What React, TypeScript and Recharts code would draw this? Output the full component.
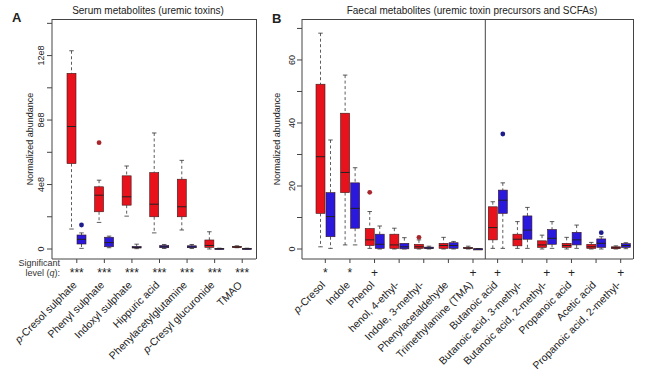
import React from "react";
import { ComposedChart, Bar, XAxis, YAxis, ReferenceLine, Label } from "recharts";

const FONT = '"Liberation Sans", Arial, Helvetica, sans-serif';
const RED = "#e8121c";
const BLUE = "#2a18dc";
const RED_OUT = "#a8262c";
const BLUE_OUT = "#1c1c8c";
const FRAME = "#444";

// ---------- Panel A: serum metabolites (values in units of 1e8) ----------
const serumNames = [
  "p-Cresol sulphate",
  "Phenyl sulphate",
  "Indoxyl sulphate",
  "Hippuric acid",
  "Phenylacetylglutamine",
  "p-Cresyl glucuronide",
  "TMAO",
];
const serumSignif = ["***", "***", "***", "***", "***", "***", "***"];
// [lower whisker, Q1, median, Q3, upper whisker]
const serumRed = [
  [1.24, 5.3, 7.6, 10.9, 12.3],
  [1.65, 2.31, 3.34, 3.86, 4.27],
  [2.04, 2.72, 3.24, 4.54, 5.15],
  [1.0, 2.0, 2.78, 4.74, 7.2],
  [1.18, 2.0, 2.62, 4.33, 5.5],
  [0.0, 0.1, 0.22, 0.56, 1.07],
  [0.08, 0.11, 0.13, 0.16, 0.2],
];
const serumBlue = [
  [0.04, 0.31, 0.6, 0.87, 1.0],
  [0.08, 0.14, 0.4, 0.73, 0.8],
  [0.02, 0.06, 0.1, 0.16, 0.3],
  [0.03, 0.08, 0.14, 0.22, 0.28],
  [0.03, 0.08, 0.13, 0.2, 0.28],
  [0.0, 0.01, 0.02, 0.04, 0.05],
  [0.0, 0.01, 0.02, 0.04, 0.05],
];
const serumRedOut = [null, 6.6, null, null, null, null, null];
const serumBlueOut = [1.49, null, null, null, null, null, null];
const serumTicks = [0, 2, 4, 6, 8, 10, 12, 14];
const serumTickLabels = ["0", "", "4e8", "", "8e8", "", "12e8", ""];
const serumDomain = [-0.62, 14.27];

// ---------- Panel B: faecal metabolites ----------
const faecalNames = [
  "p-Cresol",
  "Indole",
  "Phenol",
  "henol, 4-ethyl-",
  "Indole, 3-methyl-",
  "Phenylacetaldehyde",
  "Trimethylamine (TMA)",
  "Butanoic acid",
  "Butanoic acid, 3-methyl-",
  "Butanoic acid, 2-methyl-",
  "Propanoic acid",
  "Acetic acid",
  "Propanoic acid, 2-methyl-",
];
const faecalSignif = ["*", "*", "+", "", "", "", "+", "+", "", "+", "+", "", "+"];
const faecalRed = [
  [0.7, 11.3, 29.3, 52.3, 68.5],
  [1.3, 17.9, 24.3, 43.1, 55.2],
  [0.2, 1.1, 2.9, 6.5, 11.9],
  [0.0, 0.2, 1.3, 4.7, 6.6],
  [0.0, 0.2, 0.7, 1.5, 2.9],
  [0.0, 0.2, 1.1, 1.8, 3.7],
  [0.0, 0.1, 0.3, 0.5, 0.9],
  [0.2, 2.9, 6.8, 13.4, 15.0],
  [0.2, 1.0, 3.1, 4.7, 8.7],
  [0.0, 0.5, 1.3, 2.6, 4.4],
  [0.0, 0.5, 1.1, 1.8, 3.7],
  [0.0, 0.2, 0.7, 1.5, 2.1],
  [0.0, 0.1, 0.4, 0.7, 1.0],
];
const faecalBlue = [
  [0.2, 3.9, 10.3, 17.9, 34.6],
  [1.3, 6.6, 12.9, 21.0, 25.8],
  [0.0, 0.2, 1.5, 4.7, 7.3],
  [0.0, 0.05, 0.7, 1.8, 3.6],
  [0.0, 0.1, 0.3, 0.6, 0.9],
  [0.0, 0.2, 1.1, 2.0, 2.4],
  [0.0, 0.02, 0.05, 0.08, 0.1],
  [0.2, 11.3, 15.5, 18.7, 21.0],
  [0.2, 3.1, 6.0, 10.5, 13.2],
  [0.2, 1.5, 3.4, 6.2, 8.7],
  [0.2, 1.3, 2.9, 5.3, 7.6],
  [0.0, 0.5, 1.8, 3.2, 3.9],
  [0.1, 0.5, 1.1, 1.7, 2.0],
];
const faecalRedOut = [null, null, 18.0, null, 3.7, null, null, null, null, null, null, null, null];
const faecalBlueOut = [null, null, null, null, null, null, null, 36.5, null, null, null, 5.2, null];
const faecalTicks = [0, 10, 20, 30, 40, 50, 60, 70];
const faecalTickLabels = ["0", "", "20", "", "40", "", "60", ""];
const faecalDomain = [-3.17, 73.0];

type Stats = number[];

function buildRows(names: string[], sig: string[], red: Stats[], blue: Stats[], redOut: (number | null)[], blueOut: (number | null)[]) {
  return names.map((name, i) => {
    const rLo = Math.min(red[i][0], redOut[i] ?? Infinity);
    const rHi = Math.max(red[i][4], redOut[i] ?? -Infinity);
    const bLo = Math.min(blue[i][0], blueOut[i] ?? Infinity);
    const bHi = Math.max(blue[i][4], blueOut[i] ?? -Infinity);
    return {
      name,
      sig: sig[i],
      red: red[i],
      blue: blue[i],
      redOut: redOut[i],
      blueOut: blueOut[i],
      redRange: [rLo, rHi],
      blueRange: [bLo, bHi],
    };
  });
}

const serumRows = buildRows(serumNames, serumSignif, serumRed, serumBlue, serumRedOut, serumBlueOut);
const faecalRows = buildRows(faecalNames, faecalSignif, faecalRed, faecalBlue, faecalRedOut, faecalBlueOut);

function BoxGlyph(props: any) {
  const { x, y, width, height, payload, which } = props;
  if (!payload || x == null) return null;
  const stats: number[] = payload[which];
  const out: number | null = payload[which + "Out"];
  const range: number[] = payload[which + "Range"];
  const top = Math.min(y, y + height);
  const bottom = Math.max(y, y + height);
  const lo = range[0];
  const hi = range[1];
  const py = (v: number) => (hi === lo ? bottom : bottom - ((v - lo) / (hi - lo)) * (bottom - top));
  const cx = x + width / 2;
  const cap = width / 4;
  const fill = which === "red" ? RED : BLUE;
  const outFill = which === "red" ? RED_OUT : BLUE_OUT;
  const [wLo, q1, med, q3, wHi] = stats;
  const boxTop = py(q3);
  const boxBot = py(q1);
  return (
    <g>
      <line x1={cx} x2={cx} y1={py(wHi)} y2={boxTop} stroke="#333" strokeWidth={0.8} strokeDasharray="3 2.5" />
      <line x1={cx} x2={cx} y1={boxBot} y2={py(wLo)} stroke="#333" strokeWidth={0.8} strokeDasharray="3 2.5" />
      <line x1={cx - cap} x2={cx + cap} y1={py(wHi)} y2={py(wHi)} stroke="#333" strokeWidth={0.8} />
      <line x1={cx - cap} x2={cx + cap} y1={py(wLo)} y2={py(wLo)} stroke="#333" strokeWidth={0.8} />
      <rect x={x} y={boxTop} width={width} height={Math.max(boxBot - boxTop, 1.2)} fill={fill} stroke="#3a1a1a" strokeWidth={0.6} />
      <line x1={x} x2={x + width} y1={py(med)} y2={py(med)} stroke="#222" strokeWidth={1} />
      {out != null ? <circle cx={cx} cy={py(out)} r={2.4} fill={outFill} /> : null}
    </g>
  );
}

function makeXTick(rows: any[]) {
  const sigMap: Record<string, string> = {};
  rows.forEach((r) => (sigMap[r.name] = r.sig));
  return (props: any) => {
    const { x, y, payload } = props;
    const name: string = payload.value;
    const sig = sigMap[name] || "";
    const ax = x - 2;
    const ay = y + 20;
    return (
      <g>
        <text x={x} y={y + 14} textAnchor="middle" fontSize={12} fill="#222" fontFamily={FONT}>
          {sig}
        </text>
        <text
          x={ax}
          y={ay}
          dy="0.35em"
          textAnchor="end"
          transform={`rotate(-45 ${ax} ${ay})`}
          fontSize={10.5}
          fill="#222"
          fontFamily={FONT}
        >
          {name.startsWith("p-") ? (
            <>
              <tspan fontStyle="italic">p</tspan>
              <tspan>{name.slice(1)}</tspan>
            </>
          ) : (
            name
          )}
        </text>
      </g>
    );
  };
}

function makeYTick(ticks: number[], labels: string[]) {
  return (props: any) => {
    const { x, y, payload } = props;
    const idx = ticks.indexOf(payload.value);
    const label = idx >= 0 ? labels[idx] : "";
    return (
      <text x={x} y={y} textAnchor="middle" transform={`rotate(-90 ${x} ${y})`} fontSize={9} fill="#222" fontFamily={FONT}>
        {label}
      </text>
    );
  };
}

function yTitle(offset: number) {
  return (p: any) => {
    const vb = p.viewBox || {};
    const cx = (vb.x ?? 0) + offset;
    const cy = (vb.y ?? 0) + (vb.height ?? 0) / 2;
    return (
      <text x={cx} y={cy} textAnchor="middle" transform={`rotate(-90 ${cx} ${cy})`} fontSize={9} fill="#222" fontFamily={FONT}>
        Normalized abundance
      </text>
    );
  };
}

function Panel(props: {
  rows: any[];
  width: number;
  marginRight: number;
  yWidth: number;
  ticks: number[];
  tickLabels: string[];
  domain: number[];
  padLeft: number;
  tickMargin: number;
  titleOffset: number;
  divider?: string;
}) {
  const { rows, width, marginRight, yWidth, ticks, tickLabels, domain, padLeft, tickMargin, titleOffset, divider } = props;
  return (
    <ComposedChart
      width={width}
      height={376}
      data={rows}
      margin={{ top: 19, right: marginRight, bottom: 0, left: 0 }}
      barSize={9}
      barGap={1}
      barCategoryGap={0}
    >
      <XAxis
        dataKey="name"
        type="category"
        orientation="bottom"
        height={117}
        interval={0}
        padding={{ left: padLeft, right: 0 }}
        axisLine={{ stroke: FRAME, strokeWidth: 1 }}
        tickLine={{ stroke: FRAME, strokeWidth: 1 }}
        tickSize={4}
        tickMargin={0}
        tick={makeXTick(rows)}
      />
      <YAxis
        type="number"
        orientation="left"
        width={yWidth}
        domain={domain}
        allowDataOverflow
        ticks={ticks}
        interval={0}
        tickSize={5}
        tickMargin={tickMargin}
        axisLine={{ stroke: FRAME, strokeWidth: 1 }}
        tickLine={{ stroke: FRAME, strokeWidth: 1 }}
        tick={makeYTick(ticks, tickLabels)}
        label={<Label content={yTitle(titleOffset)} />}
      />
      <Bar
        dataKey={(d: any) => d.redRange}
        isAnimationActive={false}
        shape={(p: any) => <BoxGlyph {...p} which="red" />}
      />
      <Bar
        dataKey={(d: any) => d.blueRange}
        isAnimationActive={false}
        shape={(p: any) => <BoxGlyph {...p} which="blue" />}
      />
      {divider ? (
        <ReferenceLine x={divider} position="end" stroke={FRAME} strokeWidth={1} ifOverflow="visible" />
      ) : null}
    </ComposedChart>
  );
}

const frameStyle = (left: number, width: number): React.CSSProperties => ({
  position: "absolute",
  left,
  top: 19,
  width,
  height: 240,
  borderTop: `1px solid ${FRAME}`,
  borderRight: `1px solid ${FRAME}`,
  boxSizing: "border-box",
  pointerEvents: "none",
});

export default function App() {
  return (
    <div style={{ position: "absolute", left: 0, top: 0, width: 650, height: 376, background: "#fff", fontFamily: FONT, color: "#222" }}>
      <div style={{ position: "absolute", left: 0, top: 0 }}>
        <Panel
          rows={serumRows}
          width={262}
          marginRight={6}
          yWidth={52}
          ticks={serumTicks}
          tickLabels={serumTickLabels}
          domain={serumDomain}
          padLeft={11}
          tickMargin={3}
          titleOffset={33}
        />
      </div>
      <div style={{ position: "absolute", left: 255, top: 0 }}>
        <Panel
          rows={faecalRows}
          width={395}
          marginRight={17}
          yWidth={47}
          ticks={faecalTicks}
          tickLabels={faecalTickLabels}
          domain={faecalDomain}
          padLeft={11}
          tickMargin={2}
          titleOffset={25}
          divider="Trimethylamine (TMA)"
        />
      </div>
      <div style={frameStyle(52, 205)} />
      <div style={frameStyle(302, 332)} />
      <div style={{ position: "absolute", left: 68, top: 4, width: 160, textAlign: "center", fontSize: 10, lineHeight: "14px", whiteSpace: "nowrap" }}>
        Serum metabolites (uremic toxins)
      </div>
      <div style={{ position: "absolute", left: 332, top: 4, width: 280, textAlign: "center", fontSize: 10, lineHeight: "14px", whiteSpace: "nowrap" }}>
        Faecal metabolites (uremic toxin precursors and SCFAs)
      </div>
      <div style={{ position: "absolute", left: 12, top: 10, fontSize: 13, fontWeight: "bold", lineHeight: "16px" }}>A</div>
      <div style={{ position: "absolute", left: 272, top: 11, fontSize: 13, fontWeight: "bold", lineHeight: "16px" }}>B</div>
      <div style={{ position: "absolute", left: 0, top: 259, width: 60, textAlign: "right", fontSize: 9, lineHeight: "9.5px", color: "#333" }}>
        Significant
        <br />
        level (<i>q</i>):
      </div>
    </div>
  );
}
